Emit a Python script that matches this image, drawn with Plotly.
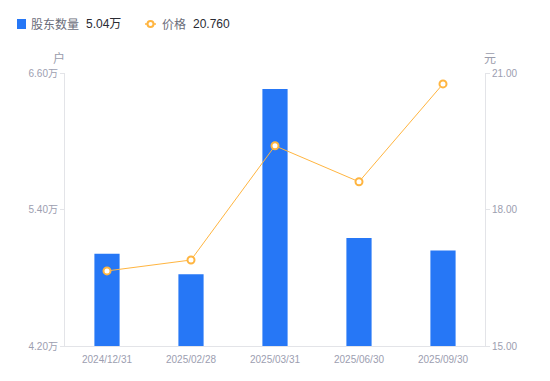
import plotly.graph_objects as go

dates = ["2024/12/31", "2025/02/28", "2025/03/31", "2025/06/30", "2025/09/30"]
holders_wan = [5.01, 4.83, 6.46, 5.15, 5.04]
price = [16.65, 16.89, 19.40, 18.61, 20.76]
left_ticks = [4.20, 5.40, 6.60]
right_ticks = [15.00, 18.00, 21.00]

W, H = 550, 381
ML, MR, MT, MB = 65, 65, 73, 35
PW, PH = W - ML - MR, H - MT - MB

def px(x):
    return (x - ML) / PW

def py(y):
    return (H - MB - y) / PH

BLUE = "#2677F6"
ORANGE = "#FFB540"
TICK = "#9c9eb0"
AXIS = "#e3e4e8"
FONT = "Liberation Sans, Arial, Noto Sans CJK SC, sans-serif"
CJK = "Noto Sans CJK SC"

fig = go.Figure()
fig.add_trace(go.Bar(x=dates, y=holders_wan, marker=dict(color=BLUE, line=dict(width=0)),
                     width=0.3, name="股东数量", yaxis="y"))
fig.add_trace(go.Scatter(x=dates, y=price, mode="lines+markers", yaxis="y2", name="价格",
                         line=dict(color=ORANGE, width=1),
                         marker=dict(symbol="circle", size=7, color="white",
                                     line=dict(color=ORANGE, width=2))))

fig.update_layout(
    width=W, height=H, margin=dict(l=ML, r=MR, t=MT, b=MB, pad=0),
    paper_bgcolor="white", plot_bgcolor="white", showlegend=False,
    font=dict(family=FONT, size=10, color=TICK),
    xaxis=dict(type="category", showgrid=False, showline=True, linecolor=AXIS, linewidth=1,
               ticks="", tickfont=dict(size=10, color=TICK), ticklabelstandoff=4,
               range=[-0.5, 4.5]),
    yaxis=dict(range=[left_ticks[0], left_ticks[-1]], tickvals=left_ticks,
               ticktext=[f"{v:.2f}万" for v in left_ticks], showgrid=False, zeroline=False,
               showline=True, linecolor=AXIS, linewidth=1, ticks="outside", ticklen=4,
               tickcolor=AXIS, tickfont=dict(size=10, color=TICK)),
    yaxis2=dict(range=[right_ticks[0], right_ticks[-1]], tickvals=right_ticks,
                ticktext=[f"{v:.2f}" for v in right_ticks], overlaying="y", side="right",
                showgrid=False, zeroline=False, showline=True, linecolor=AXIS, linewidth=1,
                ticks="outside", ticklen=4, tickcolor=AXIS, tickfont=dict(size=10, color=TICK)),
)

def label(x, y, text, size, family, color, xanchor="left"):
    fig.add_annotation(x=px(x), y=py(y), xref="paper", yref="paper", xanchor=xanchor,
                       yanchor="middle", text=text, showarrow=False,
                       font=dict(size=size, family=family, color=color))

# axis unit labels
label(59, 57, "户", 12, CJK, "#9a9cab", "center")
label(490, 57, "元", 12, CJK, "#9a9cab", "center")

# custom legend
LEG_Y = 24
fig.add_shape(type="rect", xref="paper", yref="paper", x0=px(17), x1=px(26),
              y0=py(LEG_Y - 5), y1=py(LEG_Y + 5), fillcolor=BLUE, line=dict(width=0))
label(29, LEG_Y, "股东数量", 12, CJK, "#6b6d7a")
label(84, LEG_Y, f"{holders_wan[-1]:.2f}万", 12, FONT, "#2a2b33")
fig.add_shape(type="line", xref="paper", yref="paper", x0=px(145), x1=px(156),
              y0=py(LEG_Y), y1=py(LEG_Y), line=dict(color=ORANGE, width=1.5))
fig.add_shape(type="circle", xref="paper", yref="paper", x0=px(147.5), x1=px(153.5),
              y0=py(LEG_Y - 3), y1=py(LEG_Y + 3), fillcolor="white", line=dict(color=ORANGE, width=2))
label(160, LEG_Y, "价格", 12, CJK, "#6b6d7a")
label(191, LEG_Y, f"{price[-1]:.3f}", 12, FONT, "#2a2b33")

fig.write_html("out.html", config={"displayModeBar": False},
               post_script="document.body.style.margin='0';")
